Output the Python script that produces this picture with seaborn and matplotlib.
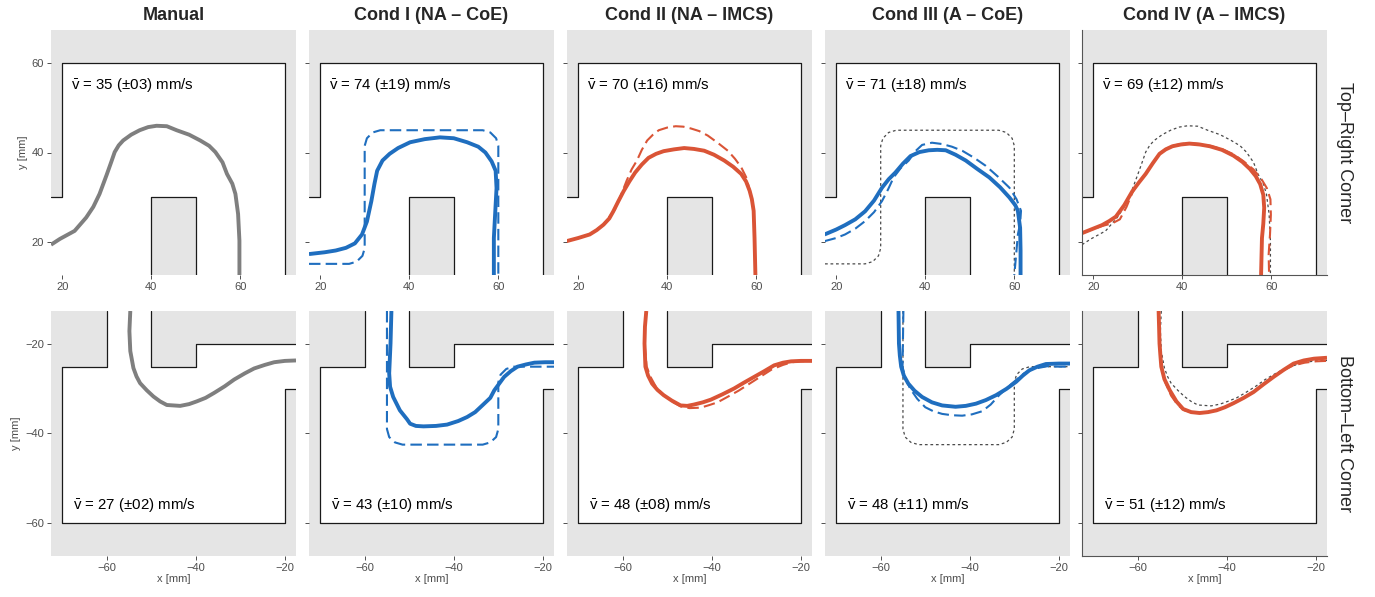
import matplotlib
matplotlib.use("Agg")
import matplotlib.pyplot as plt
import seaborn as sns

# -----------------------------
# Data
# -----------------------------
TITLES = ["Manual", "Cond I (NA \u2013 CoE)", "Cond II (NA \u2013 IMCS)",
          "Cond III (A \u2013 CoE)", "Cond IV (A \u2013 IMCS)"]
ROW_LABELS = ["Top\u2013Right Corner", "Bottom\u2013Left Corner"]

TR_MEAN = [35, 74, 70, 71, 69]
TR_SD = [3, 19, 16, 18, 12]
BL_MEAN = [27, 43, 48, 48, 51]
BL_SD = [2, 10, 8, 11, 12]

# corridor walls
TR_WALL_X = [17.5, 20, 20, 70, 70]
TR_WALL_Y = [30, 30, 60, 60, 12.5]
TR_BLOCK_X = [40, 40, 50, 50]
TR_BLOCK_Y = [12.5, 30, 30, 12.5]
TR_FREE_X = [10, 20, 20, 70, 70, 50, 50, 40, 40, 10]
TR_FREE_Y = [30, 30, 60, 60, 10, 10, 30, 30, 10, 10]

BL_WALL_X = [-60, -60, -70, -70, -20, -20, -17.5]
BL_WALL_Y = [-12.5, -25, -25, -60, -60, -30, -30]
BL_BLOCK_X = [-50, -50, -40, -40, -17.5]
BL_BLOCK_Y = [-12.5, -25, -25, -20, -20]
BL_FREE_X = [-60, -60, -70, -70, -20, -20, -10, -10, -40, -40, -50, -50]
BL_FREE_Y = [-10, -25, -25, -60, -60, -30, -30, -20, -20, -25, -25, -10]

# manual trajectories
MAN_TR_X = [17.5, 19.5, 22.8, 25.4, 27.0, 28.4, 30.0, 31.0, 31.8, 32.7, 33.7, 35.5, 37.4, 39.3, 41.2,
            43.5, 45.7, 48.5, 51.0, 53.0, 54.4, 56.0, 57.0, 58.2, 58.9, 59.5, 59.8, 59.8]
MAN_TR_Y = [19.3, 20.6, 22.4, 25.4, 27.8, 30.7, 35.0, 37.8, 40.1, 41.6, 42.7, 44.0, 45.0, 45.7, 46.0,
            45.9, 45.0, 44.0, 42.7, 41.5, 40.1, 37.8, 35.2, 33.0, 30.7, 26.2, 20.2, 12.5]
MAN_BL_X = [-54.7, -54.9, -54.7, -54.0, -53.3, -52.5, -51.0, -49.5, -48.0, -46.5, -43.5, -41.5,
            -39.8, -37.8, -35.9, -33.5, -31.4, -29.0, -26.9, -24.5, -22.4, -20.0, -17.5]
MAN_BL_Y = [-12.5, -17.0, -21.5, -25.3, -27.2, -28.7, -30.3, -31.7, -32.8, -33.6, -33.8, -33.4,
            -32.8, -32.0, -30.9, -29.4, -27.9, -26.5, -25.4, -24.6, -24.0, -23.7, -23.6]

# rounded reference path
REF_TR_X = [17.5, 26.5, 28.2, 29.5, 30.0, 30.0, 30.5, 31.8, 33.5, 56.5, 58.2, 59.5, 60.0, 60.0]
REF_TR_Y = [15.0, 15.0, 15.5, 16.8, 18.5, 41.5, 43.2, 44.5, 45.0, 45.0, 44.5, 43.2, 41.5, 12.5]
REF_BL_X = [-55.0, -55.0, -54.5, -53.2, -51.5, -33.5, -31.8, -30.5, -30.0, -30.0, -29.5, -28.2, -26.5, -17.5]
REF_BL_Y = [-12.5, -39.0, -40.8, -42.0, -42.5, -42.5, -42.0, -40.8, -39.0, -28.5, -26.8, -25.5, -25.0, -25.0]

# Cond I
C1_TR_X = [17.5, 21.0, 23.5, 25.8, 27.8, 29.4, 30.5, 31.5, 32.2, 32.8, 34.0, 35.6, 37.5,
           40.2, 43.5, 46.9, 50.0, 53.0, 55.5, 57.1, 58.5, 59.4, 59.6, 59.4, 59.0, 59.0]
C1_TR_Y = [17.2, 17.6, 18.0, 18.6, 19.6, 21.6, 24.5, 29.1, 33.0, 35.9, 38.2, 39.7, 41.0,
           42.3, 43.0, 43.4, 43.2, 42.3, 41.3, 40.0, 38.0, 35.9, 32.0, 28.3, 20.8, 12.5]
C1_BL_X = [-54.0, -54.2, -54.5, -54.3, -53.6, -52.1, -50.5, -49.8, -48.5, -46.8, -44.0, -41.5, -39.0,
           -37.0, -35.2, -33.6, -31.8, -30.9, -29.8, -28.7, -27.2, -25.7, -23.8, -21.9, -19.5, -17.5]
C1_BL_Y = [-12.5, -19.8, -26.5, -29.5, -31.8, -34.8, -36.8, -37.8, -38.3, -38.4, -38.3, -38.0, -37.2,
           -36.3, -35.2, -33.7, -32.0, -30.3, -28.8, -27.3, -26.0, -25.0, -24.5, -24.1, -24.0, -24.0]

# Cond II
C2_TR_X = [17.4, 20.0, 22.6, 24.2, 25.7, 27.0, 27.9, 29.0, 30.2, 31.5, 32.8, 34.3, 35.8, 37.5, 39.2,
           41.5, 43.8, 46.0, 48.3, 50.5, 52.8, 54.8, 56.6, 57.7, 58.5, 59.0, 59.4, 59.6, 59.8]
C2_TR_Y = [20.1, 20.8, 21.6, 22.6, 23.8, 25.2, 26.8, 29.0, 31.3, 33.5, 35.5, 37.3, 38.8, 39.7, 40.3,
           40.7, 41.0, 40.8, 40.4, 39.5, 38.2, 36.8, 35.2, 33.5, 31.4, 29.5, 26.9, 20.8, 12.3]
C2D_TR_X = [17.4, 20.0, 22.6, 25.7, 28.3, 29.6, 30.9, 32.0, 33.2, 34.3, 35.5, 36.8, 38.1, 40.0, 41.9,
            43.6, 45.3, 47.2, 49.1, 51.3, 53.6, 55.2, 56.6, 57.7, 58.5, 59.0, 59.4, 59.6, 59.8]
C2D_TR_Y = [20.1, 20.8, 21.6, 23.8, 27.3, 30.4, 33.7, 36.2, 38.2, 40.6, 42.7, 44.0, 45.0, 45.6, 45.9,
            45.8, 45.4, 44.8, 43.8, 42.2, 40.4, 38.6, 36.7, 34.5, 31.6, 29.5, 26.9, 20.8, 12.3]
C2_BL_X = [-54.7, -55.0, -55.1, -54.9, -54.3, -53.4, -52.2, -50.8, -49.0, -47.0, -45.5, -44.0,
           -42.0, -40.2, -37.6, -35.0, -32.8, -30.5, -28.2, -26.0, -24.0, -22.2, -20.0, -17.5]
C2_BL_Y = [-12.5, -16.0, -19.8, -25.0, -27.0, -28.8, -30.2, -31.4, -32.6, -33.7, -33.8, -33.5,
           -33.0, -32.4, -31.2, -29.9, -28.6, -27.3, -26.0, -24.7, -24.1, -23.8, -23.7, -23.7]
C2D_BL_X = [-54.7, -55.0, -55.1, -54.6, -53.8, -52.6, -51.0, -49.0, -47.0, -45.0, -42.5,
            -40.5, -38.7, -36.5, -34.0, -31.5, -29.0, -26.5, -24.0, -22.0, -20.0, -17.5]
C2D_BL_Y = [-12.5, -16.0, -19.8, -25.0, -27.2, -29.4, -31.2, -32.8, -33.9, -34.3, -34.2,
            -33.6, -33.0, -31.8, -30.4, -28.8, -27.2, -25.6, -24.6, -24.0, -23.8, -23.7]

# Cond III
C3_TR_X = [17.4, 20.0, 22.0, 24.3, 26.5, 28.5, 30.3, 31.8, 33.3, 35.0, 36.7, 38.7, 40.8,
           42.7, 44.6, 46.8, 49.1, 51.7, 54.4, 56.8, 58.9, 60.2, 60.8, 61.3, 61.4, 61.4]
C3_TR_Y = [21.6, 22.7, 23.7, 25.0, 26.8, 29.2, 32.1, 34.0, 35.5, 37.5, 39.2, 40.1, 40.5,
           40.6, 40.5, 39.5, 38.2, 36.3, 34.4, 32.2, 29.9, 28.2, 26.9, 23.1, 18.0, 12.5]
C3D_TR_X = [17.4, 20.0, 22.0, 24.3, 26.5, 28.5, 30.3, 31.7, 32.9, 34.5, 36.3, 37.8, 39.3, 41.5,
            43.8, 46.0, 48.3, 51.0, 53.6, 56.3, 58.9, 60.5, 61.5, 61.3, 60.8, 60.4, 60.0]
C3D_TR_Y = [20.1, 20.8, 21.6, 22.9, 24.6, 26.6, 29.1, 31.8, 34.4, 36.5, 38.2, 40.3, 41.7, 42.2,
            41.9, 41.3, 40.4, 38.8, 37.0, 34.6, 32.1, 29.5, 26.9, 24.0, 21.6, 17.0, 12.5]
C3_BL_X = [-56.0, -55.9, -55.7, -55.4, -54.8, -53.8, -52.4, -50.7, -48.5, -46.2, -43.2, -40.9,
           -38.6, -36.4, -34.1, -31.8, -29.6, -28.1, -26.6, -24.8, -22.9, -20.0, -17.5]
C3_BL_Y = [-12.5, -19.8, -22.5, -25.0, -27.0, -28.8, -30.4, -31.8, -33.0, -33.7, -34.0, -33.8,
           -33.3, -32.5, -31.4, -30.0, -28.4, -27.0, -25.8, -25.0, -24.4, -24.3, -24.3]
C3D_BL_X = [-54.9, -55.0, -55.1, -54.5, -53.4, -51.8, -50.0, -48.2, -46.2, -44.0, -41.7,
            -39.5, -37.2, -35.3, -33.4, -31.5, -29.6, -27.8, -25.8, -22.6, -20.0, -17.5]
C3D_BL_Y = [-12.5, -19.0, -25.0, -27.5, -29.9, -32.2, -34.1, -35.0, -35.6, -35.9, -36.0,
            -35.7, -35.0, -33.5, -31.4, -29.6, -28.0, -26.5, -25.5, -24.9, -25.0, -25.0]

# Cond IV
C4_TR_X = [17.5, 20.0, 22.0, 23.6, 25.1, 27.0, 28.8, 30.3, 31.8, 33.4, 34.9, 36.3, 37.8, 39.7,
           41.6, 43.9, 46.2, 48.9, 51.5, 53.5, 55.2, 56.5, 57.5, 58.2, 58.4, 58.2, 57.9, 57.7]
C4_TR_Y = [21.9, 22.9, 23.7, 24.6, 25.6, 28.2, 31.3, 33.3, 35.2, 37.6, 39.7, 40.7, 41.4, 41.8,
           42.0, 41.8, 41.4, 40.6, 39.3, 37.9, 36.3, 34.7, 32.9, 30.5, 27.6, 24.0, 20.8, 12.5]
C4D_TR_X = [17.5, 20.0, 22.0, 24.3, 26.0, 27.5, 28.8, 30.3, 31.8, 33.4, 34.9, 36.3, 37.8, 39.7,
            41.6, 43.9, 46.2, 48.9, 51.5, 53.8, 56.0, 57.8, 59.0, 59.8, 59.9, 59.7, 59.4, 59.5]
C4D_TR_Y = [21.9, 22.8, 23.5, 24.1, 25.0, 27.8, 31.0, 33.3, 35.2, 37.6, 39.7, 40.8, 41.5, 41.9,
            42.1, 41.9, 41.5, 40.8, 39.6, 38.0, 36.2, 34.0, 32.0, 29.5, 26.0, 21.5, 17.1, 12.5]
C4_BL_X = [-55.3, -55.2, -55.1, -54.9, -54.7, -54.0, -52.8, -51.3, -49.8, -48.0, -46.1, -44.2,
           -42.3, -40.4, -38.5, -36.2, -34.0, -31.8, -29.5, -27.2, -25.0, -22.7, -20.4, -17.5]
C4_BL_Y = [-12.5, -16.0, -19.8, -22.5, -25.0, -27.8, -30.3, -32.8, -34.5, -35.2, -35.4, -35.2,
           -34.8, -34.1, -33.2, -32.0, -30.7, -29.0, -27.3, -25.7, -24.3, -23.6, -23.2, -23.0]
C4D_BL_X = [-55.3, -55.2, -55.0, -54.6, -53.8, -52.5, -51.0, -49.5, -47.5, -45.5, -43.5,
            -41.5, -39.5, -37.3, -35.0, -32.5, -30.0, -27.5, -25.0, -22.5, -20.0, -17.5]
C4D_BL_Y = [-12.5, -16.0, -20.0, -25.0, -28.5, -31.5, -33.6, -34.8, -35.3, -35.4, -35.1,
            -34.5, -33.7, -32.6, -31.2, -29.4, -27.6, -25.9, -24.7, -24.1, -23.8, -23.7]

GREY = "#7f7f7f"
BLUE = "#1f6ebf"
RED = "#da5436"
REF = "#4a4a4a"

# (x, y, colour, style) per panel, drawn in order
TR_PATHS = [
    [(MAN_TR_X, MAN_TR_Y, GREY, "solid")],
    [(REF_TR_X, REF_TR_Y, BLUE, "dashed"), (C1_TR_X, C1_TR_Y, BLUE, "solid")],
    [(C2D_TR_X, C2D_TR_Y, RED, "dashed"), (C2_TR_X, C2_TR_Y, RED, "solid")],
    [(REF_TR_X, REF_TR_Y, REF, "dotted"), (C3D_TR_X, C3D_TR_Y, BLUE, "dashed"),
     (C3_TR_X, C3_TR_Y, BLUE, "solid")],
    [(MAN_TR_X, MAN_TR_Y, REF, "dotted"), (C4D_TR_X, C4D_TR_Y, RED, "dashed"),
     (C4_TR_X, C4_TR_Y, RED, "solid")],
]
BL_PATHS = [
    [(MAN_BL_X, MAN_BL_Y, GREY, "solid")],
    [(REF_BL_X, REF_BL_Y, BLUE, "dashed"), (C1_BL_X, C1_BL_Y, BLUE, "solid")],
    [(C2D_BL_X, C2D_BL_Y, RED, "dashed"), (C2_BL_X, C2_BL_Y, RED, "solid")],
    [(REF_BL_X, REF_BL_Y, REF, "dotted"), (C3D_BL_X, C3D_BL_Y, BLUE, "dashed"),
     (C3_BL_X, C3_BL_Y, BLUE, "solid")],
    [(MAN_BL_X, MAN_BL_Y, REF, "dotted"), (C4D_BL_X, C4D_BL_Y, RED, "dashed"),
     (C4_BL_X, C4_BL_Y, RED, "solid")],
]

# -----------------------------
# Style
# -----------------------------
sns.set_theme(style="white")
plt.rcParams["font.family"] = ["Liberation Sans", "DejaVu Sans"]
plt.rcParams["mathtext.fontset"] = "custom"
plt.rcParams["mathtext.rm"] = "Liberation Sans"
plt.rcParams["mathtext.it"] = "Liberation Sans:italic"
plt.rcParams["mathtext.bf"] = "Liberation Sans:bold"

LINE_KW = {
    "solid": dict(linewidth=2.8, linestyle="-"),
    "dashed": dict(linewidth=1.5, linestyle=(0, (5.5, 2.5))),
    "dotted": dict(linewidth=0.9, linestyle=(0, (2.2, 2.2))),
}

W, H = 1375, 597
fig = plt.figure(figsize=(W / 100, H / 100), dpi=100)

col_left = [51, 309, 567, 825, 1082]
row_top = [30, 311]
size = 245


def draw_room(ax, free_x, free_y, walls):
    ax.set_facecolor("#e5e5e5")
    ax.fill(free_x, free_y, color="white", zorder=0.5, lw=0)
    for wx, wy in walls:
        ax.plot(wx, wy, color="#1a1a1a", lw=0.9, zorder=1)


for r in range(2):
    for c in range(5):
        ax = fig.add_axes([col_left[c] / W, 1 - (row_top[r] + size) / H, size / W, size / H])
        if r == 0:
            draw_room(ax, TR_FREE_X, TR_FREE_Y,
                      [(TR_WALL_X, TR_WALL_Y), (TR_BLOCK_X, TR_BLOCK_Y)])
            paths = TR_PATHS[c]
            ax.set_xlim(17.5, 72.5)
            ax.set_ylim(12.5, 67.5)
            ticks_x, ticks_y = [20, 40, 60], [20, 40, 60]
            mean, sd = TR_MEAN[c], TR_SD[c]
            tx, ty = 22.0, 55.2
        else:
            draw_room(ax, BL_FREE_X, BL_FREE_Y,
                      [(BL_WALL_X, BL_WALL_Y), (BL_BLOCK_X, BL_BLOCK_Y)])
            paths = BL_PATHS[c]
            ax.set_xlim(-72.5, -17.5)
            ax.set_ylim(-67.5, -12.5)
            ticks_x, ticks_y = [-60, -40, -20], [-60, -40, -20]
            mean, sd = BL_MEAN[c], BL_SD[c]
            tx, ty = -67.5, -56.0
        label = r"$\bar{\mathrm{v}}$" + f" = {mean} (\u00b1{sd:02d}) mm/s"

        for px, py, col, sty in paths:
            sns.lineplot(x=px, y=py, sort=False, estimator=None, color=col,
                         ax=ax, zorder=2, solid_capstyle="butt", **LINE_KW[sty])

        ax.text(tx, ty, label, fontsize=10.8, va="center", ha="left", color="black", zorder=3)

        ax.set_xticks(ticks_x)
        ax.set_yticks(ticks_y)
        ax.tick_params(direction="out", length=3, width=0.6, color="#333333",
                       labelsize=8, labelcolor="#4d4d4d", pad=2,
                       bottom=True, left=True, labelleft=(c == 0))
        for s in ax.spines.values():
            s.set_visible(False)
        if c == 4:
            for side in ["left", "bottom"]:
                ax.spines[side].set_visible(True)
                ax.spines[side].set_color("#555555")
                ax.spines[side].set_linewidth(0.8)

        ax.set_xlabel("x [mm]" if r == 1 else "", fontsize=8, color="#4d4d4d", labelpad=1)
        ax.set_ylabel("y [mm]" if c == 0 else "", fontsize=8, color="#4d4d4d", labelpad=3)

        if r == 0:
            fig.text((col_left[c] + size / 2) / W, 1 - 15 / H, TITLES[c],
                     ha="center", va="center", fontsize=13, fontweight="bold")

    fig.text(1345 / W, 1 - (row_top[r] + size / 2) / H, ROW_LABELS[r],
             rotation=-90, ha="center", va="center", fontsize=13)

fig.savefig("out.png", dpi=100)
plt.close(fig)
